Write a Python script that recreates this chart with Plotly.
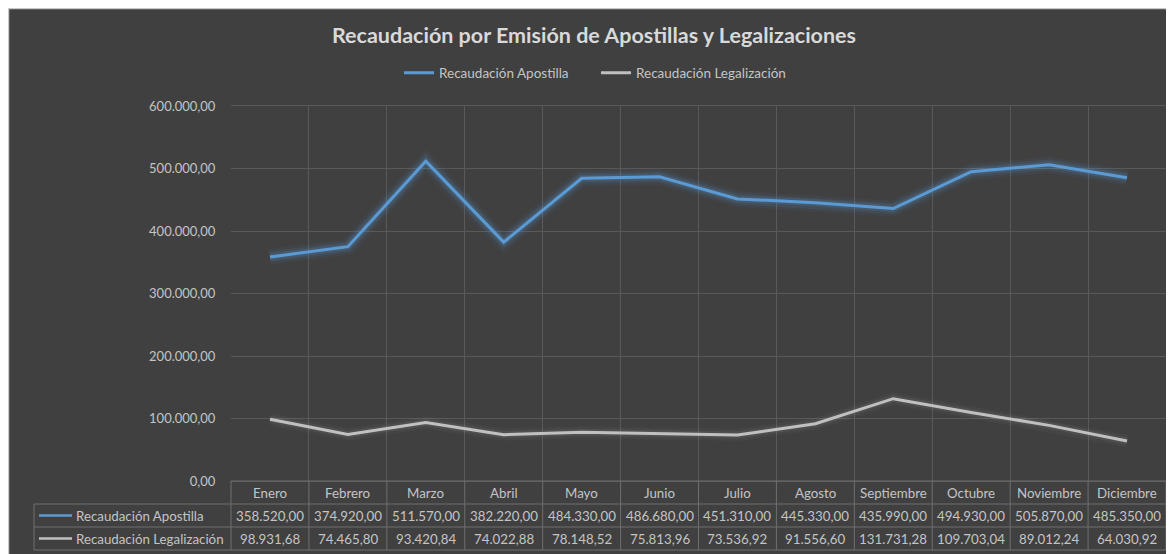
import plotly.graph_objects as go

# ---------------- data ----------------
meses = ["Enero", "Febrero", "Marzo", "Abril", "Mayo", "Junio", "Julio",
         "Agosto", "Septiembre", "Octubre", "Noviembre", "Diciembre"]
apostilla = [358520.00, 374920.00, 511570.00, 382220.00, 484330.00, 486680.00,
             451310.00, 445330.00, 435990.00, 494930.00, 505870.00, 485350.00]
legalizacion = [98931.68, 74465.80, 93420.84, 74022.88, 78148.52, 75813.96,
                73536.92, 91556.60, 131731.28, 109703.04, 89012.24, 64030.92]
serie_nombres = ["Recaudación Apostilla", "Recaudación Legalización"]
y_ticks = [0, 100000, 200000, 300000, 400000, 500000, 600000]
titulo = "Recaudación por Emisión de Apostillas y Legalizaciones"

# ---------------- style ----------------
BG = "#404040"
GRID = "#595959"
BORDER = "#6e6e6e"
TXT = "#c4c4c4"
FONT = "Lato"
C_AP = "#5b9bd5"
C_LE = "#c0c0c0"

OFF = 8  # page body margin
W, H = 1174 - OFF, 554 - OFF
L, R, T, B = 223, 8, 98, 73
PW = W - L - R
PH = H - T - B


def fx(px):  # page pixel -> paper x
    return (px - OFF - L) / PW


def fy(py):  # page pixel -> paper y
    return (H - B - (py - OFF)) / PH


def fmt(v):
    s = f"{v:,.2f}"
    return s.replace(",", "X").replace(".", ",").replace("X", ".")


fig = go.Figure()

series = [(apostilla, C_AP, "rgba(91,155,213,", serie_nombres[0], [(16, 0.06), (11, 0.10), (7, 0.16)]),
          (legalizacion, C_LE, "rgba(200,200,200,", serie_nombres[1], [(12, 0.04), (7, 0.08)])]

# glow layers
for vals, col, rgba, name, glow in series:
    for w, a in glow:
        fig.add_trace(go.Scatter(x=meses, y=vals, mode="lines",
                                 line=dict(color=rgba + f"{a})", width=w),
                                 showlegend=False, hoverinfo="skip"))
for vals, col, rgba, name, glow in series:
    fig.add_trace(go.Scatter(x=meses, y=vals, mode="lines", name=name,
                             line=dict(color=col, width=3)))

shapes = []
annotations = []

# chart frame border (top / left)
shapes.append(dict(type="line", xref="paper", yref="paper", x0=fx(8), x1=fx(1180),
                   y0=fy(8.5), y1=fy(8.5), line=dict(color="#c8c8c8", width=1.5), layer="above"))
shapes.append(dict(type="line", xref="paper", yref="paper", x0=fx(8.5), x1=fx(8.5),
                   y0=fy(8), y1=fy(560), line=dict(color="#c8c8c8", width=1.5), layer="above"))

# ---------------- data table ----------------
n = len(meses)
rh = 23 / PH
x_lab = fx(34)
bl = dict(color=BORDER, width=1)
shapes.append(dict(type="line", xref="paper", yref="paper", x0=0, x1=1, y0=0, y1=0, line=bl))
for k in (1, 2, 3):
    shapes.append(dict(type="line", xref="paper", yref="paper", x0=x_lab, x1=1,
                       y0=-k * rh, y1=-k * rh, line=bl))
for i in range(n + 1):
    shapes.append(dict(type="line", xref="paper", yref="paper", x0=i / n, x1=i / n,
                       y0=0, y1=-3 * rh, line=bl))
shapes.append(dict(type="line", xref="paper", yref="paper", x0=x_lab, x1=x_lab,
                   y0=-rh, y1=-3 * rh, line=bl))

cell_font = dict(family=FONT, size=13.3, color=TXT)
for i, m in enumerate(meses):
    xc = (i + 0.5) / n
    annotations.append(dict(x=xc, y=-0.5 * rh, xref="paper", yref="paper", text=m,
                            showarrow=False, font=cell_font, xanchor="center", yanchor="middle"))
    annotations.append(dict(x=xc, y=-1.5 * rh, xref="paper", yref="paper", text=fmt(apostilla[i]),
                            showarrow=False, font=cell_font, xanchor="center", yanchor="middle"))
    annotations.append(dict(x=xc, y=-2.5 * rh, xref="paper", yref="paper", text=fmt(legalizacion[i]),
                            showarrow=False, font=cell_font, xanchor="center", yanchor="middle"))

for r, (vals, col, rgba, name, glow) in enumerate(series):
    yc = -(1.5 + r) * rh
    shapes.append(dict(type="line", xref="paper", yref="paper", x0=fx(39), x1=fx(72),
                       y0=yc, y1=yc, line=dict(color=col, width=2.5)))
    annotations.append(dict(x=fx(74), y=yc, xref="paper", yref="paper", text=name,
                            showarrow=False, font=cell_font, xanchor="left", yanchor="middle"))

fig.update_layout(
    width=W, height=H,
    margin=dict(l=L, r=R, t=T, b=B, pad=0),
    paper_bgcolor=BG, plot_bgcolor=BG,
    separators=",.",
    font=dict(family=FONT, color=TXT),
    title=dict(text=f"<b>{titulo}</b>", x=(594 - OFF) / W, xanchor="center",
               y=1 - (35 - OFF) / H, yanchor="middle",
               font=dict(family=FONT, size=21.5, color="#d9d9d9")),
    legend=dict(orientation="h", x=fx(596), xanchor="center", y=fy(73), yanchor="middle",
                font=dict(family=FONT, size=13.5, color=TXT), bgcolor="rgba(0,0,0,0)",
                itemwidth=30, entrywidth=152, tracegroupgap=0),
    showlegend=True,
    shapes=shapes,
    annotations=annotations,
    xaxis=dict(type="category", tickson="boundaries", showgrid=True, gridcolor=GRID,
               gridwidth=1, showticklabels=False, ticks="", range=[-0.5, n - 0.5],
               showline=True, linecolor=GRID, mirror=True, zeroline=False, fixedrange=True),
    yaxis=dict(range=[0, 600000], tickvals=y_ticks, tickformat=",.2f", showgrid=True,
               gridcolor=GRID, gridwidth=1, zeroline=False, ticks="outside", ticklen=12,
               tickcolor="rgba(0,0,0,0)", tickfont=dict(family=FONT, size=13, color=TXT),
               showline=False, fixedrange=True),
)

fig.write_html("out.html")
